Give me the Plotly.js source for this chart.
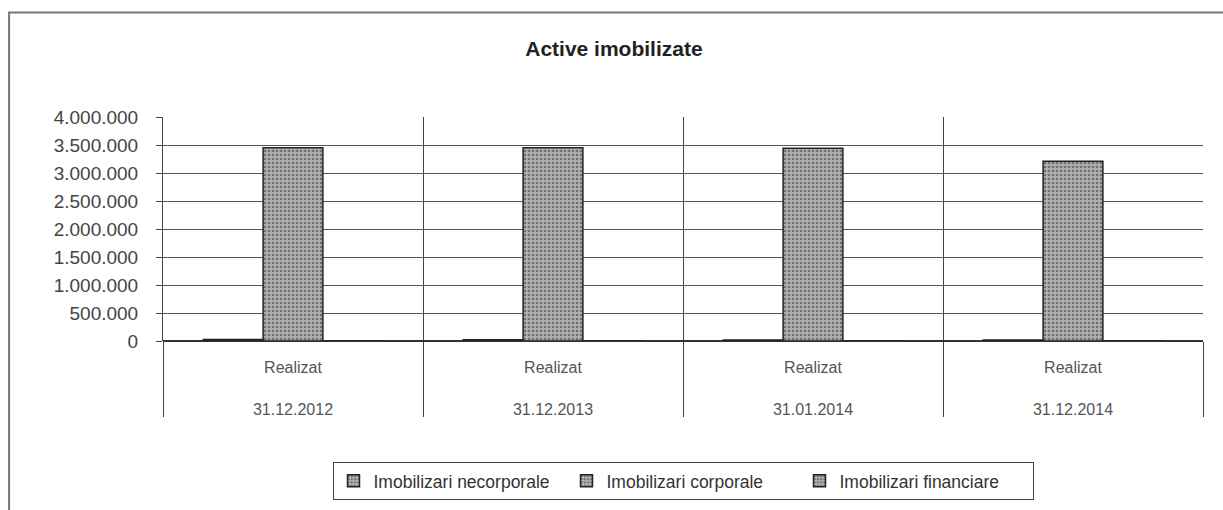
<!DOCTYPE html>
<html><head><meta charset="utf-8">
<script src="https://cdn.plot.ly/plotly-3.0.1.min.js"></script>
<style>html,body{margin:0;padding:0;background:#fff;}#chart{width:1223px;height:510px;}</style>
</head><body><div id="chart"></div>
<script>
const status = ['Realizat', 'Realizat', 'Realizat', 'Realizat'];
const dates = ['31.12.2012', '31.12.2013', '31.01.2014', '31.12.2014'];
const seriesNames = ['Imobilizari necorporale', 'Imobilizari corporale', 'Imobilizari financiare'];
const necorporale = [25000, 22000, 20000, 18000];
const corporale = [3450000, 3450000, 3440000, 3210000];
const financiare = [500, 500, 500, 500];
const yTicks = [0, 500000, 1000000, 1500000, 2000000, 2500000, 3000000, 3500000, 4000000];

const cats = status.map((s, i) => s + '<br><br>' + dates[i]);
const vals = [necorporale, corporale, financiare];
const fills = ['#9a9a9a', '#a0a0a0', '#a8a8a8'];

const traces = vals.map((v, k) => ({
  type: 'bar', name: seriesNames[k], x: cats, y: v,
  marker: {color: fills[k], line: {color: '#222', width: 1.5},
    pattern: {shape: '.', fgcolor: '#6e6e6e', bgcolor: '#b0b0b0', size: 4, solidity: 0.35}}
}));

const layout = {
  width: 1223, height: 510,
  margin: {l: 163, r: 20, t: 117, b: 168},
  paper_bgcolor: '#fff', plot_bgcolor: '#fff',
  separators: ',.',
  font: {family: 'Liberation Sans, Arial, sans-serif', color: '#444', size: 16},
  title: {text: '<b>Active imobilizate</b>', x: 0.502, xanchor: 'center', y: 0.904, yanchor: 'middle',
    font: {size: 21, color: '#222'}},
  barmode: 'group', bargap: 0.31, bargroupgap: 0,
  showlegend: true,
  legend: {orientation: 'h', x: 0.5, xanchor: 'center', y: -0.533, yanchor: 'top',
    bordercolor: '#444', borderwidth: 1, font: {size: 17.5, color: '#333'},
    itemwidth: 30, entrywidth: 188, entrywidthmode: 'pixels', traceorder: 'normal'},
  xaxis: {type: 'category', tickson: 'boundaries', ticks: 'outside', ticklen: 75, tickcolor: '#444', tickwidth: 1,
    showgrid: true, gridcolor: '#444', gridwidth: 1, showline: false, zeroline: false,
    ticklabelstandoff: 15, tickfont: {size: 16, color: '#555'}},
  yaxis: {range: [0, 4000000], tickvals: yTicks, tickformat: ',d', ticks: 'outside', ticklen: 6, tickcolor: '#444',
    showgrid: true, gridcolor: '#555', gridwidth: 1, showline: true, linecolor: '#444', linewidth: 1,
    zeroline: true, zerolinecolor: '#333', zerolinewidth: 1.5, ticklabelstandoff: 14,
    tickfont: {size: 19, color: '#444'}},
  shapes: [
    {type: 'rect', xref: 'paper', yref: 'paper', x0: -0.148, x1: 1.03, y0: -0.8, y1: 1.467,
      line: {color: '#777', width: 2}, fillcolor: 'rgba(0,0,0,0)'}
  ]
};

Plotly.newPlot('chart', traces, layout, {displayModeBar: false, staticPlot: true});
</script></body></html>
